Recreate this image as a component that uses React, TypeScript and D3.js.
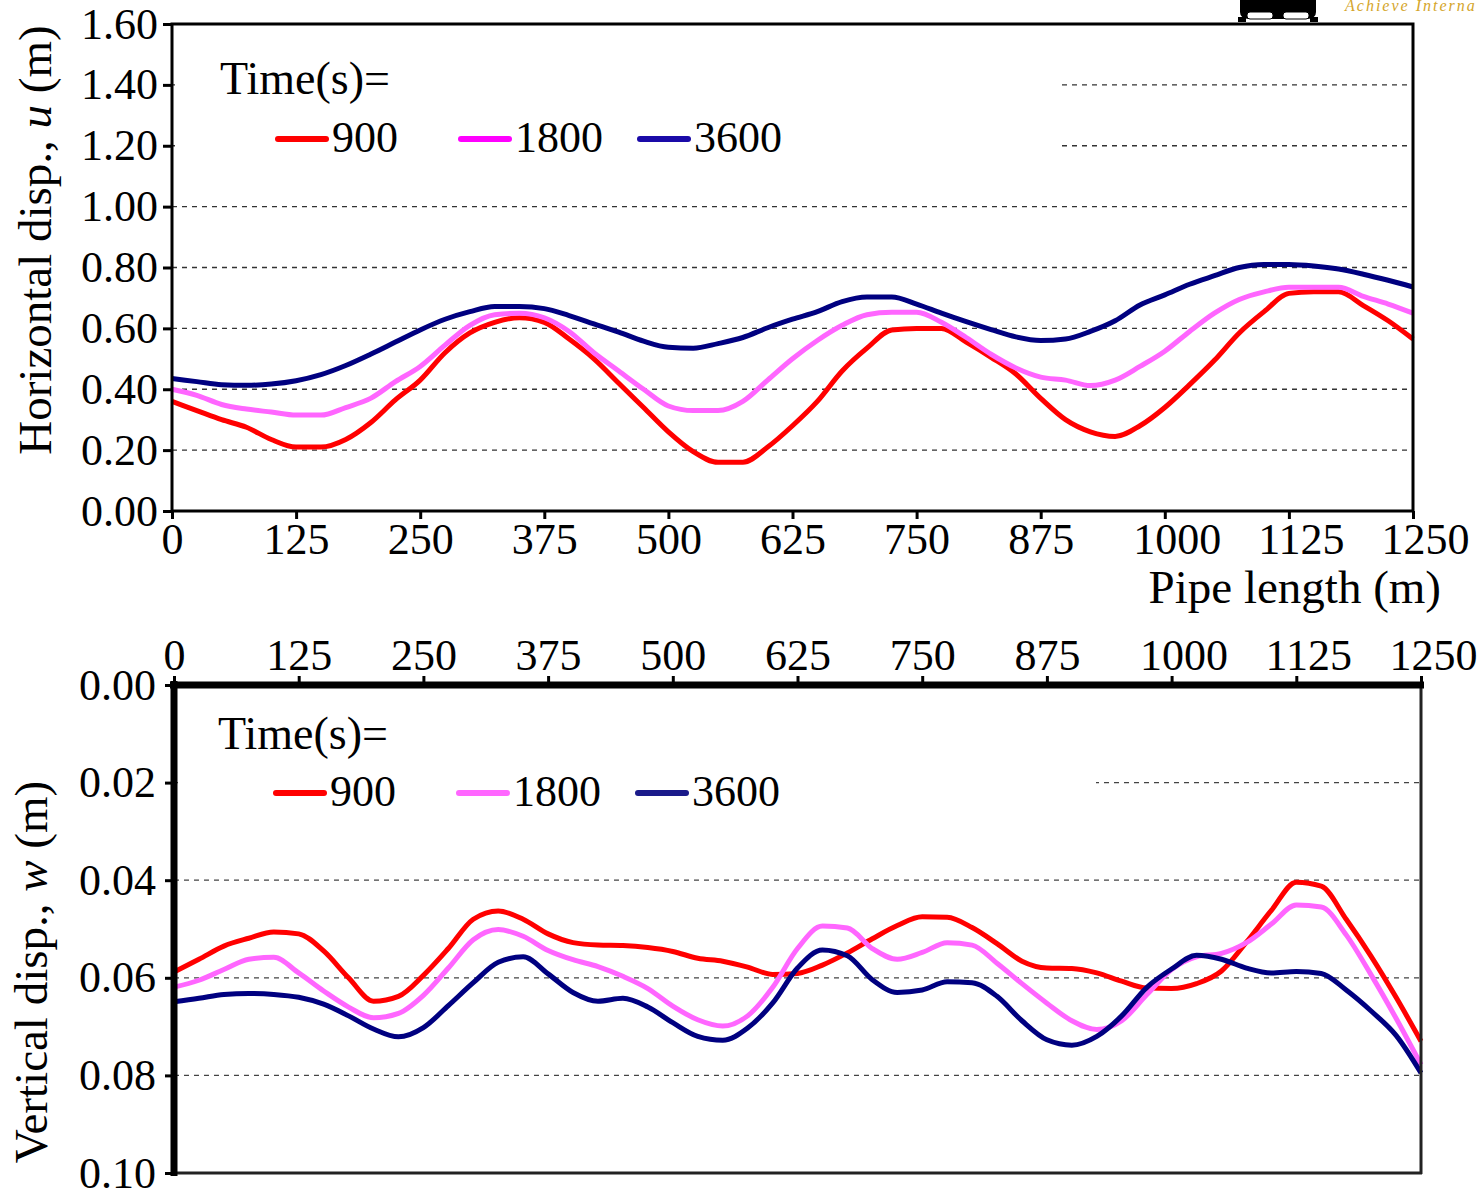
import React, { useEffect, useRef } from 'react';
import * as d3 from 'd3';

// pipe length stations (m)
const pipeLength = [0, 25, 50, 75, 100, 125, 150, 175, 200, 225, 250, 275, 300, 325, 350, 375, 400, 425, 450, 475, 500, 525, 550, 575, 600, 625, 650, 675, 700, 725, 750, 775, 800, 825, 850, 875, 900, 925, 950, 975, 1000, 1025, 1050, 1075, 1100, 1125, 1150, 1175, 1200, 1225, 1250];

// horizontal displacement u (m)
const u900 = [0.36, 0.33, 0.30, 0.275, 0.235, 0.21, 0.21, 0.235, 0.29, 0.365, 0.43, 0.52, 0.585, 0.62, 0.635, 0.62, 0.565, 0.50, 0.42, 0.34, 0.26, 0.195, 0.16, 0.16, 0.21, 0.28, 0.36, 0.46, 0.535, 0.595, 0.60, 0.60, 0.555, 0.505, 0.45, 0.37, 0.30, 0.26, 0.245, 0.28, 0.34, 0.415, 0.495, 0.585, 0.655, 0.715, 0.72, 0.72, 0.675, 0.625, 0.565];
const u1800 = [0.40, 0.38, 0.35, 0.335, 0.325, 0.315, 0.315, 0.34, 0.37, 0.425, 0.475, 0.545, 0.61, 0.645, 0.65, 0.635, 0.59, 0.52, 0.46, 0.40, 0.345, 0.33, 0.33, 0.36, 0.43, 0.50, 0.56, 0.61, 0.645, 0.653, 0.653, 0.62, 0.57, 0.515, 0.47, 0.44, 0.43, 0.412, 0.43, 0.475, 0.525, 0.59, 0.65, 0.695, 0.72, 0.735, 0.735, 0.735, 0.705, 0.68, 0.65];
const u3600 = [0.435, 0.425, 0.415, 0.413, 0.417, 0.428, 0.448, 0.478, 0.515, 0.555, 0.595, 0.63, 0.655, 0.672, 0.672, 0.665, 0.642, 0.615, 0.588, 0.558, 0.538, 0.535, 0.55, 0.57, 0.602, 0.63, 0.655, 0.688, 0.703, 0.703, 0.68, 0.65, 0.622, 0.596, 0.572, 0.56, 0.565, 0.59, 0.625, 0.677, 0.71, 0.745, 0.773, 0.8, 0.81, 0.81, 0.805, 0.795, 0.778, 0.758, 0.736];

// vertical displacement w (m)
const w900 = [0.0588, 0.0562, 0.0535, 0.0519, 0.0506, 0.051, 0.0545, 0.060, 0.0648, 0.0638, 0.0595, 0.054, 0.048, 0.0463, 0.048, 0.051, 0.0528, 0.0533, 0.0534, 0.0538, 0.0546, 0.056, 0.0566, 0.0578, 0.0593, 0.0591, 0.0574, 0.0549, 0.052, 0.0493, 0.0475, 0.0476, 0.0497, 0.053, 0.0566, 0.058, 0.0581, 0.059, 0.0607, 0.0621, 0.0622, 0.0612, 0.0586, 0.0527, 0.0462, 0.0404, 0.0412, 0.048, 0.0556, 0.064, 0.073];
const w1800 = [0.0619, 0.0605, 0.0583, 0.0562, 0.0558, 0.059, 0.0627, 0.066, 0.0682, 0.0673, 0.0636, 0.058, 0.0522, 0.0501, 0.0515, 0.0544, 0.0563, 0.0577, 0.0597, 0.0622, 0.0658, 0.0686, 0.0699, 0.0678, 0.062, 0.054, 0.0494, 0.0498, 0.054, 0.0562, 0.0548, 0.0528, 0.0533, 0.057, 0.0612, 0.0652, 0.0688, 0.0706, 0.0688, 0.0635, 0.0583, 0.0557, 0.055, 0.0528, 0.049, 0.0451, 0.0455, 0.0512, 0.0594, 0.0683, 0.0778];
const w3600 = [0.0649, 0.0642, 0.0634, 0.0632, 0.0634, 0.064, 0.0654, 0.0678, 0.0705, 0.0721, 0.0702, 0.0657, 0.061, 0.0568, 0.0557, 0.0592, 0.063, 0.0648, 0.0642, 0.066, 0.0692, 0.072, 0.0728, 0.0703, 0.0652, 0.058, 0.0543, 0.0555, 0.0604, 0.063, 0.0625, 0.0608, 0.061, 0.0638, 0.0688, 0.0727, 0.0738, 0.072, 0.0678, 0.062, 0.0582, 0.0554, 0.0562, 0.058, 0.059, 0.0587, 0.0591, 0.0625, 0.0668, 0.0718, 0.0795];

const xTicks = [0, 125, 250, 375, 500, 625, 750, 875, 1000, 1125, 1250];
const uTicks = [0, 0.2, 0.4, 0.6, 0.8, 1.0, 1.2, 1.4, 1.6];
const wTicks = [0, 0.02, 0.04, 0.06, 0.08, 0.1];
const times = ['900', '1800', '3600'];

const FONT = '"Liberation Serif", "Times New Roman", serif';
const lineColors = ['#ff0000', '#ff66ff', '#000080'];

function drawLegend(g: any, titleX: number, titleY: number, lineY: number, xs: number[], colors: string[]) {
  g.append('text')
    .attr('x', titleX).attr('y', titleY)
    .attr('font-size', 46)
    .text('Time(s)=');
  times.forEach((t, i) => {
    g.append('line')
      .attr('x1', xs[i]).attr('x2', xs[i] + 48)
      .attr('y1', lineY).attr('y2', lineY)
      .attr('stroke', colors[i]).attr('stroke-width', 6)
      .attr('stroke-linecap', 'round');
    g.append('text')
      .attr('x', xs[i] + 54).attr('y', lineY + 13)
      .attr('font-size', 44)
      .text(t);
  });
}

export default function App() {
  const svgRef = useRef<SVGSVGElement>(null);

  useEffect(() => {
    const svg = d3.select(svgRef.current);
    svg.selectAll('*').remove();
    svg.attr('font-family', FONT);

    svg.append('rect').attr('width', 1481).attr('height', 1192).attr('fill', '#fff');

    // ---------- top chart: horizontal displacement ----------
    const x1 = d3.scaleLinear().domain([0, 1250]).range([172, 1413]);
    const y1 = d3.scaleLinear().domain([0, 1.6]).range([511, 24]);
    const top = svg.append('g');

    top.selectAll('line.grid')
      .data(uTicks.filter(v => v > 0 && v < 1.6))
      .join('line')
      .attr('x1', 172).attr('x2', 1413)
      .attr('y1', d => y1(d)).attr('y2', d => y1(d))
      .attr('stroke', '#333').attr('stroke-width', 1.3)
      .attr('stroke-dasharray', '5,5');

    const line1 = d3.line<number>()
      .x((d, i) => x1(pipeLength[i]))
      .y(d => y1(d))
      .curve(d3.curveMonotoneX);

    [u900, u1800, u3600].forEach((s, i) => {
      top.append('path')
        .datum(s)
        .attr('fill', 'none')
        .attr('stroke', lineColors[i])
        .attr('stroke-width', 5)
        .attr('stroke-linejoin', 'round')
        .attr('d', line1);
    });

    // legend box hides the upper gridlines
    top.append('rect').attr('x', 175).attr('y', 27).attr('width', 885).attr('height', 152).attr('fill', '#fff');
    drawLegend(top, 220, 94, 139, [278, 461, 640], ['#ff0000', '#ff00ff', '#1a0aa8']);

    const yAxis1 = top.append('g')
      .attr('transform', 'translate(172,0)')
      .call(d3.axisLeft(y1).tickValues(uTicks).tickFormat(d3.format('.2f')).tickSize(9).tickSizeOuter(0).tickPadding(5));
    const xAxis1 = top.append('g')
      .attr('transform', 'translate(0,511)')
      .call(d3.axisBottom(x1).tickValues(xTicks).tickFormat(d3.format('d')).tickSize(8).tickSizeOuter(0).tickPadding(4));
    [yAxis1, xAxis1].forEach(a => {
      a.select('.domain').remove();
      a.selectAll('line').attr('stroke', '#000').attr('stroke-width', 3);
      a.selectAll('text').attr('font-family', FONT).attr('font-size', 44).attr('fill', '#000');
    });
    xAxis1.selectAll('text').attr('dx', (d: any) => (d >= 1000 ? 12 : 0));

    top.append('rect')
      .attr('x', 172).attr('y', 24).attr('width', 1241).attr('height', 487)
      .attr('fill', 'none').attr('stroke', '#000').attr('stroke-width', 3);

    top.append('text')
      .attr('transform', 'translate(51,240) rotate(-90)')
      .attr('text-anchor', 'middle').attr('font-size', 47)
      .call(t => {
        t.append('tspan').text('Horizontal disp., ');
        t.append('tspan').attr('font-style', 'italic').text('u');
        t.append('tspan').text(' (m)');
      });

    top.append('text')
      .attr('x', 1441).attr('y', 603)
      .attr('text-anchor', 'end').attr('font-size', 47)
      .text('Pipe length (m)');

    // ---------- bottom chart: vertical displacement ----------
    const x2 = d3.scaleLinear().domain([0, 1250]).range([174, 1421]);
    const y2 = d3.scaleLinear().domain([0, 0.1]).range([685, 1173]);
    const bot = svg.append('g');

    bot.selectAll('line.grid')
      .data(wTicks.filter(v => v > 0 && v < 0.1))
      .join('line')
      .attr('x1', 174).attr('x2', 1421)
      .attr('y1', d => y2(d)).attr('y2', d => y2(d))
      .attr('stroke', '#444').attr('stroke-width', 1.3)
      .attr('stroke-dasharray', '5,5');

    const line2 = d3.line<number>()
      .x((d, i) => x2(pipeLength[i]))
      .y(d => y2(d))
      .curve(d3.curveMonotoneX);

    [w900, w1800, w3600].forEach((s, i) => {
      bot.append('path')
        .datum(s)
        .attr('fill', 'none')
        .attr('stroke', lineColors[i])
        .attr('stroke-width', 5)
        .attr('stroke-linejoin', 'round')
        .attr('d', line2);
    });

    bot.append('rect').attr('x', 178).attr('y', 689).attr('width', 918).attr('height', 162).attr('fill', '#fff');
    drawLegend(bot, 218, 749, 793, [276, 459, 638], ['#ff0000', '#ff66ff', '#1a1a8a']);

    const yAxis2 = bot.append('g')
      .attr('transform', 'translate(174,0)')
      .call(d3.axisLeft(y2).tickValues(wTicks).tickFormat(d3.format('.2f')).tickSize(9).tickSizeOuter(0).tickPadding(9));
    const xAxis2 = bot.append('g')
      .attr('transform', 'translate(0,685)')
      .call(d3.axisTop(x2).tickValues(xTicks).tickFormat(d3.format('d')).tickSize(9).tickSizeOuter(0).tickPadding(6));
    [yAxis2, xAxis2].forEach(a => {
      a.select('.domain').remove();
      a.selectAll('line').attr('stroke', '#000').attr('stroke-width', 3);
      a.selectAll('text').attr('font-family', FONT).attr('font-size', 44).attr('fill', '#000');
    });
    xAxis2.selectAll('text').attr('dx', (d: any) => (d >= 1000 ? 12 : 0));

    // frame: thin right/bottom, heavy left/top
    bot.append('line').attr('x1', 1421).attr('x2', 1421).attr('y1', 685).attr('y2', 1174)
      .attr('stroke', '#222').attr('stroke-width', 3);
    bot.append('line').attr('x1', 174).attr('x2', 1422).attr('y1', 1173).attr('y2', 1173)
      .attr('stroke', '#222').attr('stroke-width', 3);
    bot.append('line').attr('x1', 174).attr('x2', 174).attr('y1', 681).attr('y2', 1176)
      .attr('stroke', '#000').attr('stroke-width', 7);
    bot.append('line').attr('x1', 170).attr('x2', 1424).attr('y1', 685).attr('y2', 685)
      .attr('stroke', '#000').attr('stroke-width', 7);

    bot.append('text')
      .attr('transform', 'translate(47,972) rotate(-90)')
      .attr('text-anchor', 'middle').attr('font-size', 47)
      .call(t => {
        t.append('tspan').text('Vertical disp., ');
        t.append('tspan').attr('font-style', 'italic').text('w');
        t.append('tspan').text(' (m)');
      });

    // partial logo in the top-right corner
    const logo = svg.append('g');
    logo.append('path')
      .attr('d', 'M1240,0 H1316 V12 Q1316,18 1308,19 H1248 Q1240,18 1240,12 Z')
      .attr('fill', '#000');
    logo.append('rect').attr('x', 1247).attr('y', 12).attr('width', 26).attr('height', 7).attr('rx', 3)
      .attr('fill', '#fff').attr('stroke', '#000').attr('stroke-width', 1);
    logo.append('rect').attr('x', 1283).attr('y', 12).attr('width', 26).attr('height', 7).attr('rx', 3)
      .attr('fill', '#fff').attr('stroke', '#000').attr('stroke-width', 1);
    logo.append('rect').attr('x', 1238).attr('y', 17).attr('width', 8).attr('height', 5).attr('fill', '#000');
    logo.append('rect').attr('x', 1310).attr('y', 17).attr('width', 8).attr('height', 5).attr('fill', '#000');
    logo.append('text')
      .attr('x', 1345).attr('y', 11)
      .attr('font-size', 16).attr('font-style', 'italic')
      .attr('letter-spacing', 2)
      .attr('fill', '#d4a52a')
      .text('Achieve Interna');
  }, []);

  return (
    <svg ref={svgRef} width={1481} height={1192} style={{ position: 'absolute', left: 0, top: 0 }}></svg>
  );
}
